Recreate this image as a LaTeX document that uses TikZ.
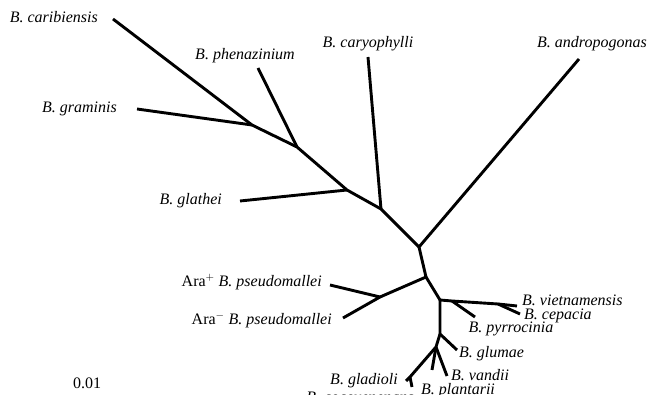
\documentclass[tikz,border=0pt]{standalone}
\usepackage{fontspec}
\setmainfont{Liberation Serif}
\usetikzlibrary{positioning}

\begin{document}
\begin{tikzpicture}[
  x=1pt, y=-1pt,
  branch/.style={line width=2.9pt},
  lab/.style={font=\fontsize{16}{19}\selectfont\itshape, inner sep=0pt},
  node distance=12pt
]
\clip (0,0) rectangle (649,395);
% inner nodes
\coordinate (root) at (419,247);
\coordinate (jcar) at (381,209);
\coordinate (jglat) at (347,190);
\coordinate (jphen) at (297,147);
\coordinate (jgram) at (252,125);
\coordinate (jlow) at (426,277);
\coordinate (jpse) at (380,297);
\coordinate (jbc) at (440,300);
\coordinate (jpyr) at (452,301);
\coordinate (jcep) at (498,304);
\coordinate (jglu) at (440,334);
\coordinate (jsub) at (436,347);
\coordinate (jgc) at (410,377);
% tips
\coordinate (tcari) at (113,19);
\coordinate (tgram) at (137,109);
\coordinate (tphen) at (258,68);
\coordinate (tglat) at (240,201);
\coordinate (tcary) at (368,57);
\coordinate (tandr) at (579,59);
\coordinate (tarap) at (330,285);
\coordinate (taram) at (343,318);
\coordinate (tviet) at (517,306);
\coordinate (tcep) at (520,314);
\coordinate (tpyr) at (475,317);
\coordinate (tglu) at (457,350);
\coordinate (tvan) at (447,376);
\coordinate (tpla) at (432,370);
\coordinate (tgla) at (406,381);
\coordinate (tcoc) at (412,387);

% branches
\draw[branch] (tcari) -- (jgram) -- (jphen) -- (jglat) -- (jcar) -- (root) -- (tandr);
\draw[branch] (tgram) -- (jgram);
\draw[branch] (tphen) -- (jphen);
\draw[branch] (tglat) -- (jglat);
\draw[branch] (tcary) -- (jcar);
\draw[branch] (root) -- (jlow) -- (jpse);
\draw[branch] (tarap) -- (jpse) -- (taram);
\draw[branch] (jlow) -- (jbc) -- (jpyr) -- (jcep) -- (tviet);
\draw[branch] (jpyr) -- (tpyr);
\draw[branch] (jcep) -- (tcep);
\draw[branch] (jbc) -- (jglu) -- (tglu);
\draw[branch] (jglu) -- (jsub) -- (jgc) -- (tgla);
\draw[branch] (jgc) -- (tcoc);
\draw[branch] (jsub) -- (tpla);
\draw[branch] (jsub) -- (tvan);

% labels
\node[lab, left=15pt of tcari, yshift=2pt] (lcari) {B. caribiensis};
\node[lab, left=20pt of tgram] (lgram) {B. graminis};
\node[lab, above=5pt of tphen, xshift=-13pt] (lphen) {B. phenazinium};
\node[lab, left=18pt of tglat] (lglat) {B. glathei};
\node[lab, above=6pt of tcary] (lcary) {B. caryophylli};
\node[lab, above=8pt of tandr, xshift=13pt] (landr) {B. andropogonas};
\node[lab, left=8pt of tarap, yshift=3pt] (larap) {\upshape Ara$^+$ \itshape B. pseudomallei};
\node[lab, left=11pt of taram, yshift=-2pt] (laram) {\upshape Ara$^-$ \itshape B. pseudomallei};
\node[lab, right=5pt of tviet, yshift=6pt] (lviet) {B. vietnamensis};
\node[lab, right=4pt of tcep, yshift=-2pt] (lcep) {B. cepacia};
\node[lab, below=5pt of tpyr, xshift=36pt] (lpyr) {B. pyrrocinia};
\node[lab, right=2pt of tglu, yshift=-4pt] (lglu) {B. glumae};
\node[lab, right=4pt of tvan, yshift=1pt] (lvan) {B. vandii};
\node[lab, below=13pt of tpla, xshift=26pt] (lpla) {B. plantarii};
\node[lab, left=8pt of tgla] (lgla) {B. gladioli};
\node[lab, below left=5pt and -2pt of tcoc] (lcoc) {B. cocovenenans};
\node[lab, font=\fontsize{16}{19}\selectfont\upshape] (lscale) at (87,383) {0.01};
\end{tikzpicture}
\end{document}
